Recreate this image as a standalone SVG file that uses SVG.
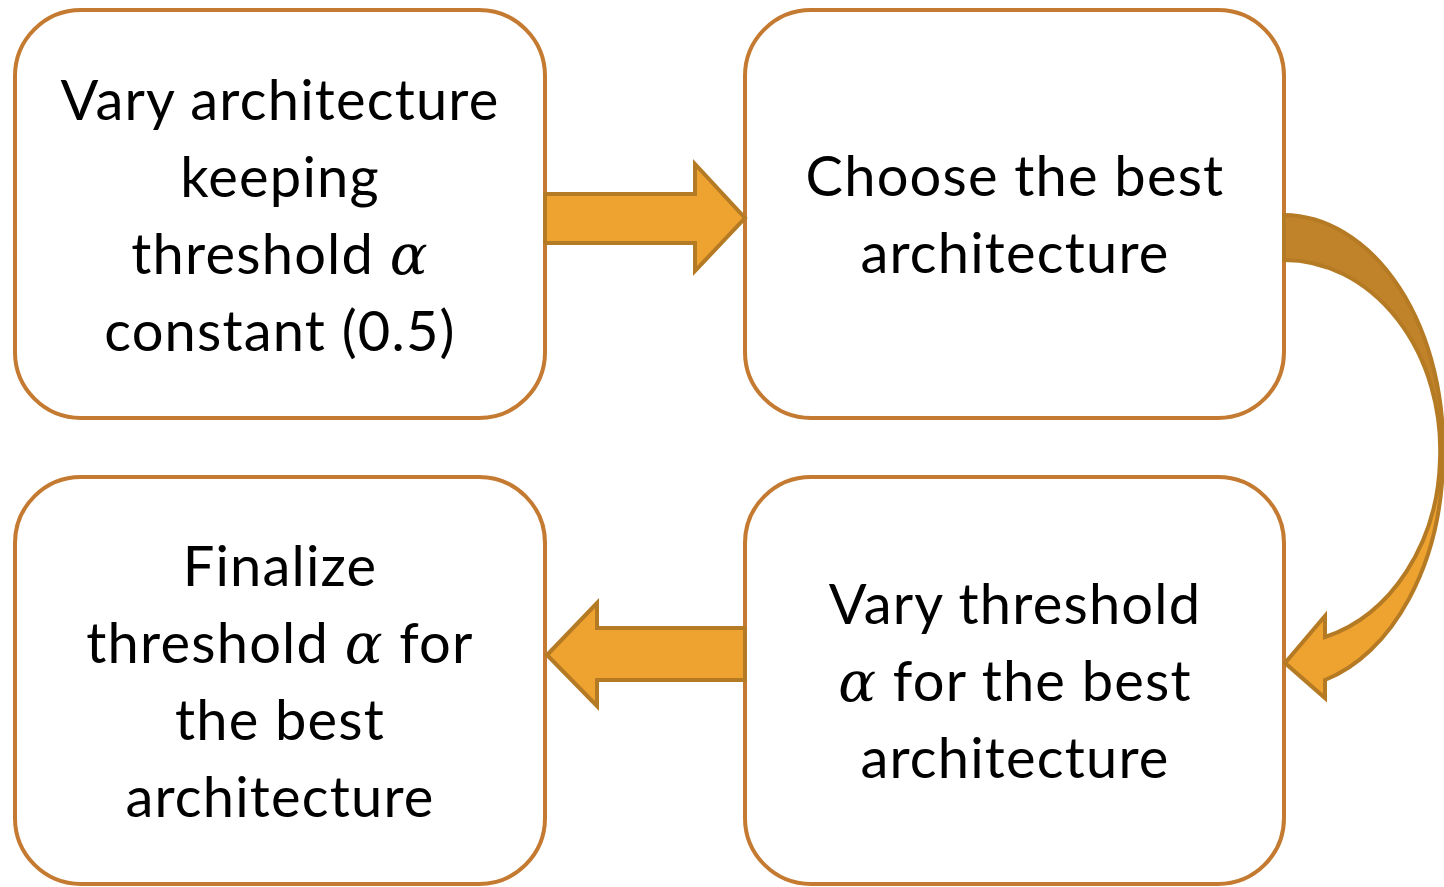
<svg xmlns="http://www.w3.org/2000/svg" width="1444" height="887" viewBox="0 0 1444 887">
<style>
.box{fill:#fff;stroke:#C47A30;stroke-width:4}
.t{font-family:Lato,"Open Sans",sans-serif;font-size:56px;letter-spacing:1.2px;fill:#000;text-anchor:middle}
.a{font-family:"DejaVu Serif","Liberation Serif",serif;font-style:italic}
.arr{fill:#EEA22F;stroke:#B57A24;stroke-width:4;stroke-linejoin:miter}
.dark{fill:#C0832A;stroke:#B57A24;stroke-width:4}
</style>
<rect width="1444" height="887" fill="#fff"/>
<g id="n1">
<rect class="box" x="15" y="10" width="530" height="408" rx="66"/>
<text class="t" x="280" y="120">Vary architecture</text>
<text class="t" x="280" y="197">keeping</text>
<text class="t" x="280" y="274">threshold <tspan class="a">α</tspan></text>
<text class="t" x="280" y="351">constant (0.5)</text>
</g>
<g id="n2">
<rect class="box" x="745" y="10" width="539" height="408" rx="66"/>
<text class="t" x="1015" y="196">Choose the best</text>
<text class="t" x="1015" y="273">architecture</text>
</g>
<g id="n3">
<rect class="box" x="745" y="477" width="539" height="407" rx="66"/>
<text class="t" x="1015" y="624">Vary threshold</text>
<text class="t" x="1015" y="701"><tspan class="a">α</tspan> for the best</text>
<text class="t" x="1015" y="778">architecture</text>
</g>
<g id="n4">
<rect class="box" x="15" y="477" width="530" height="407" rx="66"/>
<text class="t" x="280" y="586">Finalize</text>
<text class="t" x="280" y="663">threshold <tspan class="a">α</tspan> for</text>
<text class="t" x="280" y="740">the best</text>
<text class="t" x="280" y="817">architecture</text>
</g>
<g id="connectors">
<path class="arr" d="M545,194 L695,194 L695,164 L745,218 L695,271 L695,243 L545,243 Z"/>
<path class="arr" d="M745,628 L597,628 L597,603 L547,655 L597,706 L597,680 L745,680 Z"/>
<path class="dark" d="M1284,215 A160,233 0 0 1 1443,460 L1440,460 A156,190 0 0 0 1284,260 Z"/>
<path class="arr" d="M1443,460 A160,233 0 0 1 1325,680 L1325,698 L1285,663 L1325,616 L1325,637 A156,190 0 0 0 1440,460 Z"/>
</g>
</svg>
